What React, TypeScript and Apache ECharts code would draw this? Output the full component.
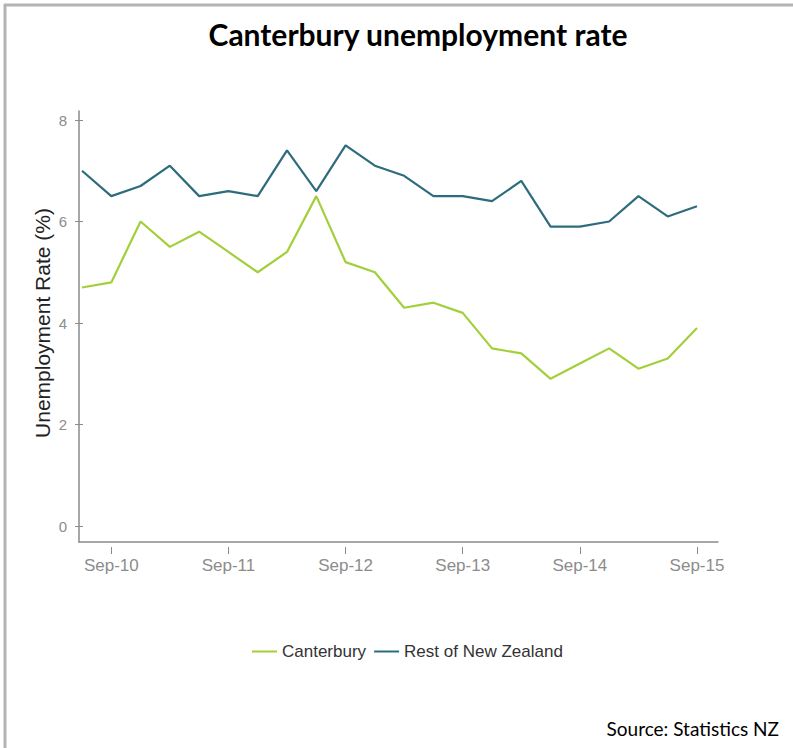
import React, { useEffect, useRef } from "react";
import * as echarts from "echarts";

const quarters: string[] = [
  "Jun-10", "Sep-10", "Dec-10", "Mar-11", "Jun-11", "Sep-11", "Dec-11", "Mar-12",
  "Jun-12", "Sep-12", "Dec-12", "Mar-13", "Jun-13", "Sep-13", "Dec-13", "Mar-14",
  "Jun-14", "Sep-14", "Dec-14", "Mar-15", "Jun-15", "Sep-15",
];

const canterbury: number[] = [
  4.7, 4.8, 6.0, 5.5, 5.8, 5.4, 5.0, 5.4, 6.5, 5.2, 5.0,
  4.3, 4.4, 4.2, 3.5, 3.4, 2.9, 3.2, 3.5, 3.1, 3.3, 3.9,
];

const restOfNZ: number[] = [
  7.0, 6.5, 6.7, 7.1, 6.5, 6.6, 6.5, 7.4, 6.6, 7.5, 7.1,
  6.9, 6.5, 6.5, 6.4, 6.8, 5.9, 5.9, 6.0, 6.5, 6.1, 6.3,
];

const seriesNames: string[] = ["Canterbury", "Rest of New Zealand"];
const titleText = "Canterbury unemployment rate";
const sourceText = "Source: Statistics NZ";
const yAxisName = "Unemployment Rate (%)";

const GREEN = "#a3cf3a";
const TEAL = "#2d6c7c";
const AXIS_GRAY = "#8a8a8a";
const LABEL_GRAY = "#8c8c8c";
const SANS = "'Liberation Sans', Arial, sans-serif";

const hidden = {
  axisLine: { show: false },
  axisTick: { show: false },
  axisLabel: { show: false },
  splitLine: { show: false },
};

export default function App() {
  const ref = useRef<HTMLDivElement>(null);

  useEffect(() => {
    if (!ref.current) return;
    const chart = echarts.init(ref.current, null, { renderer: "svg" });
    const isSep = (_i: number, v: string) => String(v).startsWith("Sep");

    chart.setOption({
      animation: false,
      backgroundColor: "#ffffff",
      grid: [
        // 0: data plot
        { left: 82, right: 96, top: 120, bottom: 222, containLabel: false },
        // 1: axis frame lines
        { left: 79, right: 75, top: 111, bottom: 206, containLabel: false },
        // 2: x ticks + labels (below the frame line)
        { left: 82, right: 96, top: 120, bottom: 201, containLabel: false },
        // 3: y ticks + labels
        { left: 79, right: 75, top: 120, bottom: 222, containLabel: false },
      ],
      xAxis: [
        { type: "category", gridIndex: 0, data: quarters, boundaryGap: false, ...hidden },
        {
          type: "value",
          gridIndex: 1,
          min: 0,
          max: 1,
          ...hidden,
          axisLine: { show: true, lineStyle: { color: AXIS_GRAY, width: 1.5 } },
        },
        {
          type: "category",
          gridIndex: 2,
          data: quarters,
          boundaryGap: false,
          axisLine: { show: false },
          axisTick: {
            show: true,
            interval: isSep,
            length: 7,
            lineStyle: { color: AXIS_GRAY, width: 1 },
          },
          axisLabel: {
            interval: isSep,
            margin: 10,
            color: LABEL_GRAY,
            fontSize: 17,
            fontFamily: SANS,
          },
          splitLine: { show: false },
        },
        { type: "value", gridIndex: 3, min: 0, max: 1, ...hidden },
      ],
      yAxis: [
        { type: "value", gridIndex: 0, min: 0, max: 8, interval: 2, ...hidden },
        {
          type: "value",
          gridIndex: 1,
          min: 0,
          max: 1,
          ...hidden,
          axisLine: { show: true, lineStyle: { color: AXIS_GRAY, width: 1.5 } },
        },
        { type: "value", gridIndex: 2, min: 0, max: 1, ...hidden },
        {
          type: "value",
          gridIndex: 3,
          position: "left",
          min: 0,
          max: 8,
          interval: 2,
          name: yAxisName,
          nameLocation: "middle",
          nameGap: 26,
          nameMoveOverlap: false,
          nameTextStyle: { color: "#222222", fontSize: 21, fontFamily: SANS },
          axisLine: { show: false },
          axisTick: { show: true, length: 4, lineStyle: { color: AXIS_GRAY, width: 1 } },
          axisLabel: { margin: 12, color: LABEL_GRAY, fontSize: 15, fontFamily: SANS },
          splitLine: { show: false },
        },
        {
          type: "value",
          gridIndex: 3,
          position: "left",
          min: 0,
          max: 8,
          interval: 2,
          axisLine: { show: false },
          axisTick: { show: true, inside: true, length: 4, lineStyle: { color: AXIS_GRAY, width: 1 } },
          axisLabel: { show: false },
          splitLine: { show: false },
        },
      ],
      legend: {
        data: seriesNames.map((n) => ({ name: n, icon: "rect" })),
        left: 247,
        top: 638,
        itemWidth: 25,
        itemHeight: 2,
        itemGap: 8,
        textStyle: { color: "#333333", fontSize: 17, fontFamily: SANS },
      },
      series: [
        {
          name: seriesNames[0],
          type: "line",
          xAxisIndex: 0,
          yAxisIndex: 0,
          data: canterbury,
          symbol: "none",
          lineStyle: { color: GREEN, width: 2.2 },
          itemStyle: { color: GREEN },
        },
        {
          name: seriesNames[1],
          type: "line",
          xAxisIndex: 0,
          yAxisIndex: 0,
          data: restOfNZ,
          symbol: "none",
          lineStyle: { color: TEAL, width: 2.2 },
          itemStyle: { color: TEAL },
        },
      ],
      graphic: [
        {
          type: "line",
          shape: { x1: 4, y1: 5, x2: 793, y2: 5 },
          style: { stroke: "#b4b4b4", lineWidth: 3 },
        },
        {
          type: "line",
          shape: { x1: 5, y1: 4, x2: 5, y2: 748 },
          style: { stroke: "#b4b4b4", lineWidth: 3 },
        },
        {
          type: "text",
          x: 418,
          y: 34,
          style: {
            text: titleText,
            fill: "#000000",
            font: "bold 30px Lato, 'Liberation Sans', sans-serif",
            align: "center",
            verticalAlign: "middle",
          },
        },
        {
          type: "text",
          x: 779,
          y: 728,
          style: {
            text: sourceText,
            fill: "#000000",
            font: "19px Lato, 'Liberation Sans', sans-serif",
            align: "right",
            verticalAlign: "middle",
          },
        },
      ],
    });

    return () => chart.dispose();
  }, []);

  return (
    <div
      ref={ref}
      style={{ position: "fixed", left: 0, top: 0, width: 793, height: 748 }}
    />
  );
}
